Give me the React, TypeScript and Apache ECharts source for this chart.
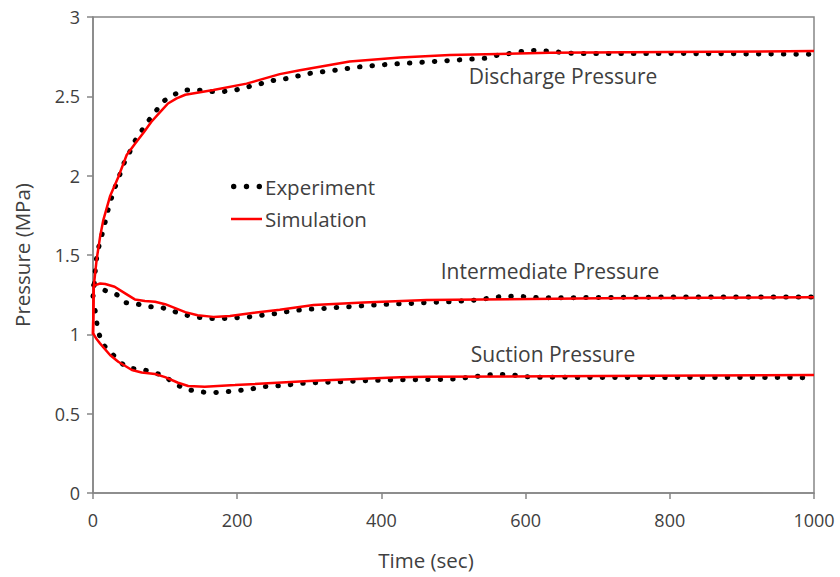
import React, { useEffect, useRef } from "react";
import * as echarts from "echarts";

const xTicks = { min: 0, max: 1000, interval: 200 };
const yTicks = { min: 0, max: 3, interval: 0.5 };

const dischargeExp: number[][] = [
  [0, 1.24], [1.8, 1.31], [2.8, 1.38], [4.2, 1.46], [7.4, 1.54], [12, 1.62], [16, 1.69],
  [20, 1.77], [25, 1.85], [30, 1.92], [36, 1.99], [42, 2.07], [50, 2.14], [57, 2.21],
  [67, 2.28], [76, 2.34], [86, 2.4], [98, 2.47], [112, 2.51], [127, 2.54], [146, 2.54],
  [163, 2.53], [181, 2.53], [198, 2.54], [215, 2.56], [233, 2.58], [250, 2.6], [266, 2.61],
  [301, 2.645], [336, 2.665], [370, 2.686], [405, 2.7], [440, 2.71], [474, 2.72], [509, 2.73],
  [544, 2.74], [562, 2.76], [578, 2.77], [597, 2.785], [614, 2.79], [631, 2.785], [650, 2.777],
  [668, 2.77], [800, 2.77], [1000, 2.765],
];
const dischargeSim: number[][] = [
  [0, 1.0], [1, 1.3], [5, 1.47], [10, 1.62], [14.3, 1.72], [23.6, 1.87], [35, 1.99],
  [46.7, 2.13], [58, 2.2], [70, 2.27], [81, 2.34], [93, 2.4], [104, 2.455], [116, 2.487],
  [128, 2.51], [167, 2.54], [213, 2.58], [259, 2.64], [287, 2.665], [356, 2.72], [426, 2.745],
  [495, 2.76], [634, 2.775], [796, 2.78], [1000, 2.785],
];
const intermediateExp: number[][] = [
  [1, 1.31], [8, 1.29], [17.6, 1.275], [33, 1.25], [45, 1.2], [62, 1.19], [79, 1.174],
  [96, 1.168], [113, 1.143], [130, 1.12], [147, 1.107], [165, 1.1], [182, 1.1], [200, 1.105],
  [217, 1.11], [234, 1.12], [252, 1.13], [269, 1.143], [286, 1.153], [305, 1.16], [322, 1.163],
  [339, 1.17], [356, 1.174], [374, 1.18], [391, 1.185], [409, 1.19], [443, 1.195], [462, 1.2],
  [495, 1.205], [530, 1.216], [548, 1.227], [564, 1.237], [583, 1.24], [601, 1.237], [620, 1.23],
  [800, 1.235], [1000, 1.235],
];
const intermediateSim: number[][] = [
  [0, 1.0], [1, 1.3], [3, 1.31], [10, 1.32], [17, 1.317], [30, 1.3], [44, 1.26], [58, 1.22],
  [72, 1.21], [86, 1.205], [100, 1.19], [114, 1.165], [128, 1.14], [145, 1.12], [167, 1.11],
  [190, 1.115], [213, 1.13], [259, 1.155], [306, 1.185], [375, 1.2], [463, 1.216], [537, 1.22],
  [703, 1.227], [1000, 1.233],
];
const suctionExp: number[][] = [
  [3, 1.15], [5, 1.08], [7.4, 1.016], [13, 0.94], [26, 0.88], [36.5, 0.827], [50, 0.786],
  [67.5, 0.78], [84, 0.76], [99, 0.737], [114, 0.687], [130, 0.653], [147, 0.638], [164, 0.632],
  [181, 0.636], [200, 0.645], [217, 0.653], [234, 0.67], [252, 0.674], [269, 0.68], [286, 0.69],
  [305, 0.695], [339, 0.7], [374, 0.707], [409, 0.712], [462, 0.715], [495, 0.716], [530, 0.733],
  [546, 0.744], [564, 0.748], [583, 0.744], [601, 0.733], [620, 0.729], [1000, 0.727],
];
const suctionSim: number[][] = [
  [0, 1.006], [1, 1.0], [5, 0.97], [9.7, 0.943], [23.6, 0.87], [35, 0.827], [54, 0.775],
  [67.5, 0.76], [86, 0.75], [100, 0.73], [118, 0.695], [132, 0.674], [155, 0.67], [197, 0.68],
  [306, 0.708], [426, 0.729], [463, 0.733], [703, 0.737], [1000, 0.744],
];

const curveLabels = [
  { text: "Discharge Pressure", x: 563, y: 76 },
  { text: "Intermediate Pressure", x: 550, y: 271 },
  { text: "Suction Pressure", x: 553, y: 354 },
];

const FONT = "'Open Sans', sans-serif";
const TEXT = "#404040";
const AXIS = "#868686";
const RED = "#ff0000";

export default function App() {
  const ref = useRef<HTMLDivElement>(null);
  useEffect(() => {
    if (!ref.current) return;
    const chart = echarts.init(ref.current, undefined, { renderer: "svg" });
    const expStyle = { color: "#000", width: 5, type: [0.5, 12] as any, cap: "round" as any };
    const simStyle = { color: RED, width: 2.5 };
    const mk = (name: string, data: number[][], exp: boolean, z: number) => ({
      type: "line",
      name,
      data,
      showSymbol: false,
      symbol: "none",
      color: exp ? "#000" : RED,
      lineStyle: exp ? expStyle : simStyle,
      z,
    });
    chart.setOption({
      animation: false,
      textStyle: { fontFamily: FONT },
      grid: {
        left: 93, right: 26, top: 17, bottom: 84,
        show: true, borderColor: AXIS, borderWidth: 1.5, backgroundColor: "transparent",
      },
      legend: {
        orient: "vertical",
        left: 231,
        top: 176,
        padding: 0,
        itemWidth: 31,
        itemHeight: 14,
        itemGap: 11.5,
        textStyle: { fontSize: 20.5, color: TEXT, fontFamily: FONT, padding: [0, 0, 0, -2] },
        data: [
          {
            name: "Experiment",
            icon:
              "path://M0,2.7a2.7,2.7 0 1,0 5.4,0a2.7,2.7 0 1,0 -5.4,0zM12.8,2.7a2.7,2.7 0 1,0 5.4,0a2.7,2.7 0 1,0 -5.4,0zM25.6,2.7a2.7,2.7 0 1,0 5.4,0a2.7,2.7 0 1,0 -5.4,0z",
            itemStyle: { color: "#000" },
          },
          { name: "Simulation", icon: "path://M0,0h31v2.5h-31z", itemStyle: { color: RED } },
        ],
      },
      xAxis: {
        type: "value",
        min: xTicks.min,
        max: xTicks.max,
        interval: xTicks.interval,
        axisLine: { show: true, lineStyle: { color: AXIS, width: 1.5 } },
        axisTick: { show: true, length: 6, lineStyle: { color: AXIS, width: 1.5 } },
        axisLabel: { fontSize: 18, color: TEXT, margin: 18, fontFamily: FONT, formatter: (v: number) => String(v) },
        splitLine: { show: false },
      },
      yAxis: {
        type: "value",
        min: yTicks.min,
        max: yTicks.max,
        interval: yTicks.interval,
        axisLine: { show: true, lineStyle: { color: AXIS, width: 1.5 } },
        axisTick: { show: true, length: 6, lineStyle: { color: AXIS, width: 1.5 } },
        axisLabel: { fontSize: 18, color: TEXT, margin: 13, fontFamily: FONT },
        splitLine: { show: false },
      },
      graphic: [
        {
          type: "text",
          x: 426, y: 560,
          style: { text: "Time (sec)", fill: TEXT, font: `20.5px ${FONT}`, align: "center", verticalAlign: "middle" },
        },
        {
          type: "text",
          x: 22, y: 255, rotation: Math.PI / 2,
          style: { text: "Pressure (MPa)", fill: TEXT, font: `20.5px ${FONT}`, align: "center", verticalAlign: "middle" },
        },
        ...curveLabels.map((l) => ({
          type: "text",
          x: l.x, y: l.y,
          style: { text: l.text, fill: TEXT, font: `21px ${FONT}`, align: "center", verticalAlign: "middle" },
        })),
      ],
      series: [
        mk("Experiment", dischargeExp, true, 2),
        mk("Experiment", intermediateExp, true, 2),
        mk("Experiment", suctionExp, true, 2),
        mk("Simulation", dischargeSim, false, 3),
        mk("Simulation", intermediateSim, false, 3),
        mk("Simulation", suctionSim, false, 3),
      ],
    });
    return () => chart.dispose();
  }, []);
  return (
    <div
      ref={ref}
      style={{ position: "absolute", left: 0, top: 0, width: 840, height: 577, background: "#fff" }}
    />
  );
}
